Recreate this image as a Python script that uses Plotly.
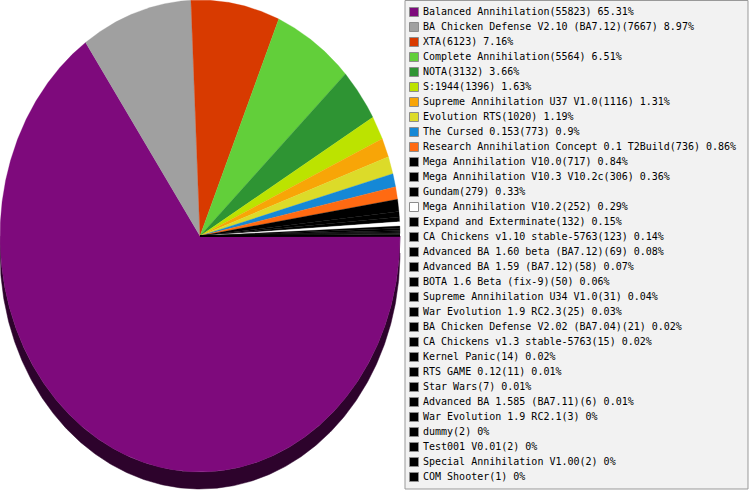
import numpy as np
import plotly.graph_objects as go

# mod names and game counts, in slice order
names = [
    "Balanced Annihilation", "BA Chicken Defense V2.10 (BA7.12)", "XTA",
    "Complete Annihilation", "NOTA", "S:1944", "Supreme Annihilation U37 V1.0",
    "Evolution RTS", "The Cursed 0.153", "Research Annihilation Concept 0.1 T2Build",
    "Mega Annihilation V10.0", "Mega Annihilation V10.3 V10.2c", "Gundam",
    "Mega Annihilation V10.2", "Expand and Exterminate", "CA Chickens v1.10 stable-5763",
    "Advanced BA 1.60 beta (BA7.12)", "Advanced BA 1.59 (BA7.12)", "BOTA 1.6 Beta (fix-9)",
    "Supreme Annihilation U34 V1.0", "War Evolution 1.9 RC2.3",
    "BA Chicken Defense V2.02 (BA7.04)", "CA Chickens v1.3 stable-5763", "Kernel Panic",
    "RTS GAME 0.12", "Star Wars", "Advanced BA 1.585 (BA7.11)", "War Evolution 1.9 RC2.1",
    "dummy", "Test001 V0.01", "Special Annihilation V1.00", "COM Shooter",
]
counts = [55823, 7667, 6123, 5564, 3132, 1396, 1116, 1020, 773, 736, 717, 306, 279,
          252, 132, 123, 69, 58, 50, 31, 25, 21, 15, 14, 11, 7, 6, 3, 2, 2, 2, 1]
colors = ["#7e0a7c", "#a0a0a0", "#d83a00", "#62cf3a", "#2e9433", "#bce300",
          "#f8a507", "#dcdb29", "#1588d6", "#ff6a12", "#000000", "#000000",
          "#000000", "#ffffff"] + ["#000000"] * 18

W, H = 749, 490
RX, RY = 200, 236      # pie radii in px
DEPTH = 17             # 3d rim height in px

total = sum(counts)
pcts = [c / total * 100 for c in counts]
labels = [f"{n}({c}) {round(p, 2):g}%" for n, c, p in zip(names, counts, pcts)]


def darken(hexcol, k=0.36):
    r, g, b = (int(hexcol[i:i + 2], 16) for i in (1, 3, 5))
    return "rgb(%d,%d,%d)" % (r * k, g * k, b * k)


# slice angles, clockwise from 3 o'clock
ends = np.cumsum(counts) / total * 2 * np.pi
starts = np.concatenate([[0], ends[:-1]])
d = DEPTH / RY

fig = go.Figure()

# rim (front half only)
for a0, a1, col in zip(starts, ends, colors):
    lo, hi = max(a0, 0), min(a1, np.pi)
    if hi <= lo:
        continue
    t = np.linspace(lo, hi, max(int((hi - lo) / 0.01), 2))
    xs = np.concatenate([np.cos(t), np.cos(t[::-1])])
    ys = np.concatenate([-np.sin(t), -np.sin(t[::-1]) - d])
    fig.add_trace(go.Scatter(x=xs, y=ys, fill="toself", fillcolor=darken(col),
                             mode="lines", line=dict(width=0.5, color=darken(col)),
                             hoverinfo="skip", showlegend=False))

# top face
for a0, a1, col, lab in zip(starts, ends, colors, labels):
    t = np.linspace(a0, a1, max(int((a1 - a0) / 0.005), 2))
    xs = np.concatenate([[0], np.cos(t), [0]])
    ys = np.concatenate([[0], -np.sin(t), [0]])
    fig.add_trace(go.Scatter(x=xs, y=ys, fill="toself", fillcolor=col,
                             mode="lines", line=dict(width=0.3, color=col),
                             name=lab, hoverinfo="name", showlegend=False))

# legend built as markers + text on its own pixel-like axes
idx = np.arange(len(labels))
ypos = 12 + 15 * idx
fig.add_trace(go.Scatter(
    x=[414] * len(labels), y=ypos, mode="markers",
    marker=dict(symbol="square", size=9, color=colors,
                line=dict(color="#8c8c8c", width=1)),
    xaxis="x2", yaxis="y2", hoverinfo="skip", showlegend=False, cliponaxis=False))
fig.add_trace(go.Scatter(
    x=[423] * len(labels), y=ypos, mode="text", text=labels,
    textposition="middle right", marker=dict(size=1),
    textfont=dict(family="DejaVu Sans Mono", size=10, color="#000000"),
    xaxis="x2", yaxis="y2", hoverinfo="skip", showlegend=False, cliponaxis=False))

fig.add_shape(type="rect", xref="paper", yref="paper",
              x0=405 / W, x1=748 / W, y0=1 - 489 / H, y1=1 - 0.5 / H,
              fillcolor="#f2f2f2", line=dict(color="#999999", width=1), layer="below")

hidden = dict(visible=False, showgrid=False, zeroline=False, fixedrange=True)
fig.update_layout(
    width=W, height=H,
    margin=dict(l=0, r=0, t=0, b=0),
    paper_bgcolor="#ffffff", plot_bgcolor="rgba(0,0,0,0)",
    xaxis=dict(domain=[0, 1], range=[-1, -1 + W / RX], **hidden),
    yaxis=dict(domain=[0, 1], range=[1 - H / RY, 1], **hidden),
    xaxis2=dict(domain=[0, 1], range=[0, W], anchor="y2", overlaying="x", **hidden),
    yaxis2=dict(domain=[0, 1], range=[H, 0], anchor="x2", overlaying="y", **hidden),
)

fig.write_html("out.html", config={"displayModeBar": False},
               post_script="document.body.style.margin='0';")
